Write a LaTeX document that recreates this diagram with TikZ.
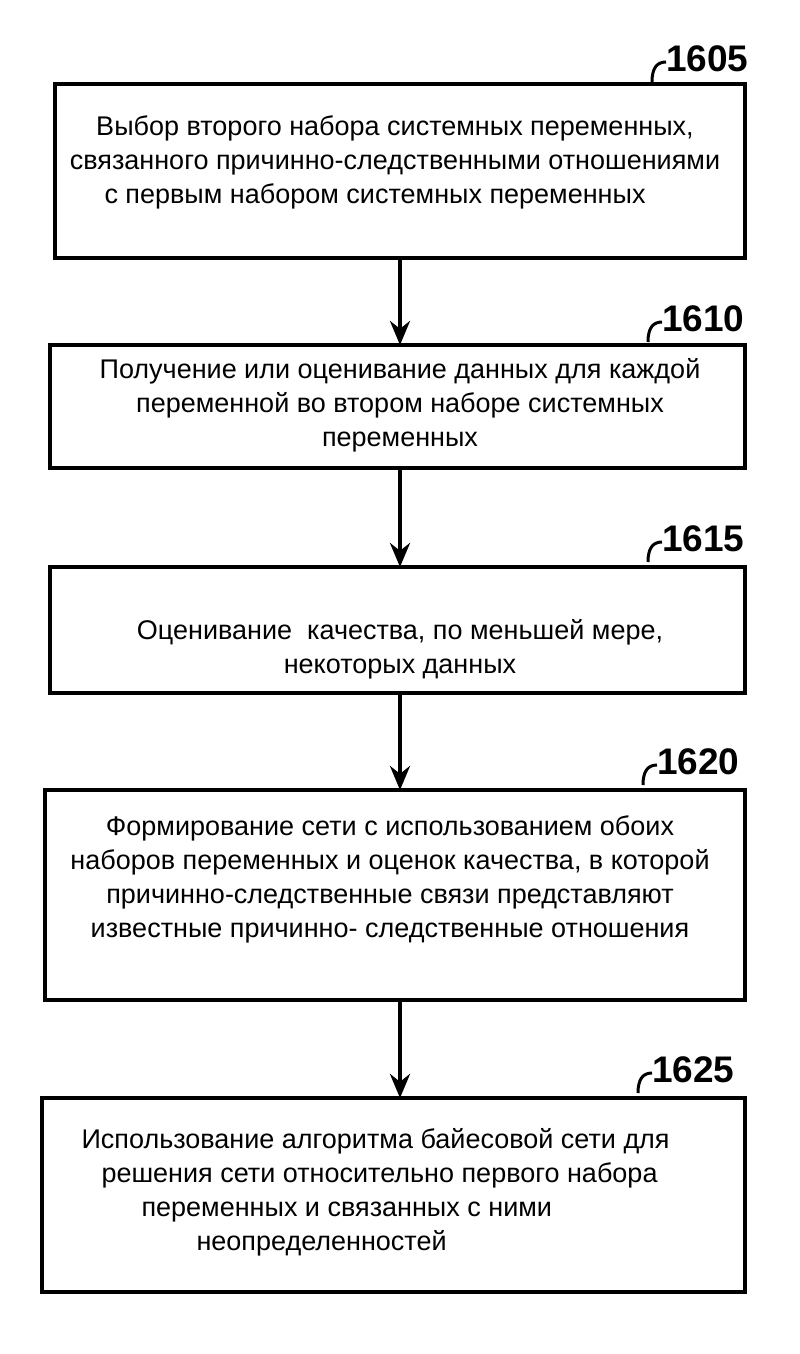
\documentclass[tikz,border=0pt]{standalone}
\usepackage{fontspec}
\setmainfont{Liberation Sans}
\usetikzlibrary{arrows.meta}
\begin{document}
\begin{tikzpicture}[x=1pt,y=-1pt,
  box/.style={draw,line width=4pt},
  txt/.style={align=center,font=\fontsize{27}{34}\selectfont},
  num/.style={font=\bfseries\fontsize{37}{38}\selectfont,anchor=west,inner sep=0pt},
  hook/.style={line width=3pt},
  arr/.style={line width=4pt,-{Stealth[length=24pt,width=20pt]}}]
\useasboundingbox (0,0) rectangle (800,1354);
\draw[box] (55,84) rectangle (745,258);
\node[txt] (t1) at (395,162) {Выбор второго набора системных переменных,\\связанного причинно-следственными отношениями\\\hspace*{-40pt}с первым набором системных переменных};
\path (400,84) coordinate (b1t) (400,258) coordinate (b1b);
\draw[box] (50,345) rectangle (745,468);
\node[txt] (t2) at (400,405) {Получение или оценивание данных для каждой\\переменной во втором наборе системных\\переменных};
\path (400,345) coordinate (b2t) (400,468) coordinate (b2b);
\draw[box] (50,567) rectangle (745,693);
\node[txt] (t3) at (400,649) {Оценивание\ \ качества, по меньшей мере,\\некоторых данных};
\path (400,567) coordinate (b3t) (400,693) coordinate (b3b);
\draw[box] (45,790) rectangle (745,1000);
\node[txt] (t4) at (390,879) {Формирование сети с использованием обоих\\наборов переменных и оценок качества, в которой\\причинно-следственные связи представляют\\известные причинно- следственные отношения};
\path (400,790) coordinate (b4t) (400,1000) coordinate (b4b);
\draw[box] (42,1098) rectangle (745,1292);
\node[txt,align=left,anchor=west] (t5) at (78,1192) {Использование алгоритма байесовой сети для\\\hspace*{20pt}решения сети относительно первого набора\\\hspace*{60pt}переменных и связанных с ними\\\hspace*{115pt}неопределенностей};
\path (400,1098) coordinate (b5t);
\draw[arr] (b1b) -- (b2t);
\draw[arr] (b2b) -- (b3t);
\draw[arr] (b3b) -- (b4t);
\draw[arr] (b4b) -- (b5t);
\foreach \n/\x/\y in {1605/652/62,1610/648/322,1615/648/542,1620/643/765,1625/638/1073}{
  \draw[hook] (\x,\y+20) .. controls (\x,\y+6) and (\x+5,\y) .. (\x+14,\y);
  \node[num] (n\n) at (\x+14,\y-3) {\n};
}
\end{tikzpicture}
\end{document}
